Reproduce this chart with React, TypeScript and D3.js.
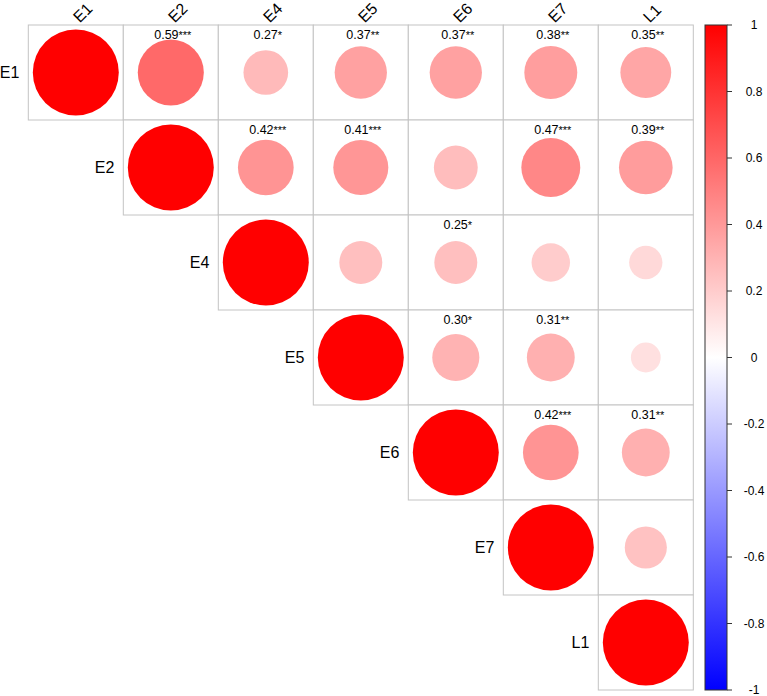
import React from "react";
import * as d3 from "d3";

const variables = ["E1", "E2", "E4", "E5", "E6", "E7", "L1"];

// Upper-triangle correlations (row i, column j >= i); null below the diagonal
const corrE1 = [1, 0.59, 0.27, 0.37, 0.37, 0.38, 0.35];
const corrE2 = [null, 1, 0.42, 0.41, 0.26, 0.47, 0.39];
const corrE4 = [null, null, 1, 0.25, 0.25, 0.2, 0.15];
const corrE5 = [null, null, null, 1, 0.3, 0.31, 0.12];
const corrE6 = [null, null, null, null, 1, 0.42, 0.31];
const corrE7 = [null, null, null, null, null, 1, 0.24];
const corrL1 = [null, null, null, null, null, null, 1];

// Significance stars; "" = no label shown
const sigE1 = ["", "***", "*", "**", "**", "**", "**"];
const sigE2 = ["", "", "***", "***", "", "***", "**"];
const sigE4 = ["", "", "", "", "*", "", ""];
const sigE5 = ["", "", "", "", "*", "**", ""];
const sigE6 = ["", "", "", "", "", "***", "**"];
const sigE7 = ["", "", "", "", "", "", ""];
const sigL1 = ["", "", "", "", "", "", ""];

const legendTicks = [1, 0.8, 0.6, 0.4, 0.2, 0, -0.2, -0.4, -0.6, -0.8, -1];

const corrRows = [corrE1, corrE2, corrE4, corrE5, corrE6, corrE7, corrL1];
const sigRows = [sigE1, sigE2, sigE4, sigE5, sigE6, sigE7, sigL1];

const W = 767;
const H = 696;
const gridLeft = 28.3;
const gridTop = 25;
const cell = 95;
const n = variables.length;

const FONT = "'Liberation Sans', Arial, Helvetica, sans-serif";

export default function App() {
  const x = d3
    .scaleBand<string>()
    .domain(variables)
    .range([gridLeft, gridLeft + n * cell])
    .padding(0);
  const y = d3
    .scaleBand<string>()
    .domain(variables)
    .range([gridTop, gridTop + n * cell])
    .padding(0);
  const rScale = d3.scaleSqrt().domain([0, 1]).range([0, (cell / 2) * 0.905]);
  const color = (v: number) =>
    v >= 0
      ? d3.interpolateRgb("#FFFFFF", "#FF0000")(v)
      : d3.interpolateRgb("#FFFFFF", "#0000FF")(-v);

  const barX = 705;
  const barW = 22;
  const barY = d3.scaleLinear().domain([1, -1]).range([25, 690]);

  const cells: React.ReactNode[] = [];
  const labels: React.ReactNode[] = [];
  corrRows.forEach((row, i) => {
    row.forEach((v, j) => {
      if (v === null || v === undefined) return;
      const cx = (x(variables[j]) as number) + cell / 2;
      const cy = (y(variables[i]) as number) + cell / 2;
      cells.push(
        <rect
          key={`r${i}-${j}`}
          x={x(variables[j])}
          y={y(variables[i])}
          width={cell}
          height={cell}
          fill="#FFFFFF"
          stroke="#C4C4C4"
          strokeWidth={1}
        />
      );
      labels.push(
        <circle
          key={`c${i}-${j}`}
          cx={cx}
          cy={cy}
          r={rScale(Math.abs(v))}
          fill={color(v)}
        />
      );
      const s = sigRows[i][j];
      if (s) {
        labels.push(
          <text
            key={`t${i}-${j}`}
            x={cx + 2}
            y={(y(variables[i]) as number) + 14}
            textAnchor="middle"
            fontSize={12.5}
            fontFamily={FONT}
            fill="#000"
          >
            {v.toFixed(2)}
            <tspan fontSize={11}>{s}</tspan>
          </text>
        );
      }
    });
  });

  const stops = d3.range(0, 21).map((k) => {
    const v = 1 - k / 10;
    return <stop key={k} offset={`${(k / 20) * 100}%`} stopColor={color(v)} />;
  });

  return (
    <svg
      width={W}
      height={H}
      style={{ position: "absolute", left: 0, top: 0, display: "block", background: "#fff" }}
    >
      <defs>
        <linearGradient id="cbar" x1="0" y1="0" x2="0" y2="1">
          {stops}
        </linearGradient>
      </defs>
      {cells}
      {labels}
      {variables.map((v) => (
        <text
          key={`col-${v}`}
          transform={`translate(${(x(v) as number) + cell / 2 + 4},23.5) rotate(-45)`}
          fontSize={16}
          fontFamily={FONT}
          fill="#000"
        >
          {v}
        </text>
      ))}
      {variables.map((v, i) => (
        <text
          key={`row-${v}`}
          x={(x(variables[i]) as number) - 9}
          y={(y(v) as number) + cell / 2}
          textAnchor="end"
          dominantBaseline="central"
          fontSize={16}
          fontFamily={FONT}
          fill="#000"
        >
          {v}
        </text>
      ))}
      <rect
        x={barX}
        y={barY(1)}
        width={barW}
        height={barY(-1) - barY(1)}
        fill="url(#cbar)"
        stroke="#333"
        strokeWidth={1}
      />
      {legendTicks.map((t) => (
        <g key={`lt${t}`}>
          <line
            x1={barX + barW}
            x2={barX + barW + 5}
            y1={barY(t)}
            y2={barY(t)}
            stroke="#333"
            strokeWidth={1}
          />
          <text
            x={754}
            y={barY(t)}
            textAnchor="middle"
            dominantBaseline="central"
            fontSize={12}
            fontFamily={FONT}
            fill="#000"
          >
            {String(t)}
          </text>
        </g>
      ))}
    </svg>
  );
}
